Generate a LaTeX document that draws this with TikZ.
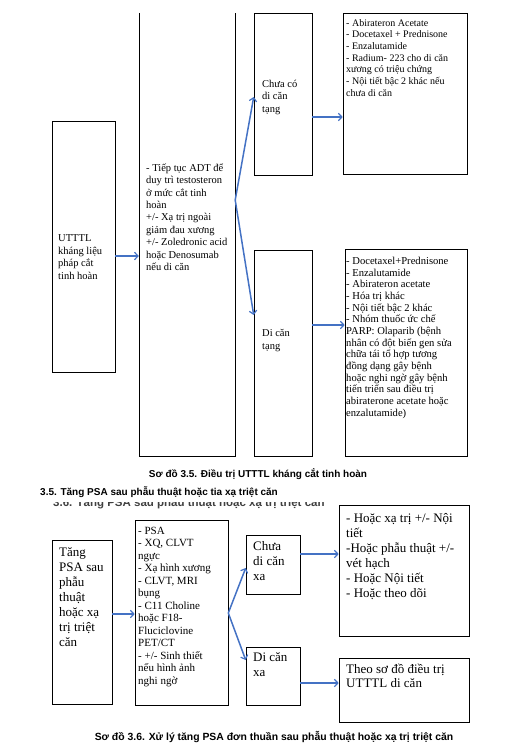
\documentclass[tikz,border=0pt]{standalone}
\usepackage{fontspec}
\setmainfont{Liberation Serif}
\setsansfont{Liberation Sans}
\usetikzlibrary{arrows.meta}
\definecolor{arrblue}{RGB}{68,114,196}
\tikzset{
  bx/.style={draw=black, line width=0.6pt, inner sep=0pt, minimum width=#1},
  txt/.style={anchor=north west, align=left, inner sep=0pt},
  arr/.style={draw=arrblue, line width=1.5pt, -{Straight Barb[length=3.5pt,width=7.5pt,line width=1.2pt]}},
  captxt/.style={font=\sffamily\bfseries\fontsize{10}{12}\selectfont, inner sep=0pt},
}
\newcommand{\fs}[2]{\fontsize{#1}{#2}\selectfont}
\newcommand{\fl}{\rule{0pt}{1em}}
\begin{document}
\begin{tikzpicture}[x=1pt,y=-1pt]
\useasboundingbox (0,0) rectangle (519,750);
% ---------- Diagram 3.5 ----------
\node[bx=63pt, minimum height=251pt] (b1) at (83.5,246.5) {};
\node[inner sep=0pt, minimum width=96pt, minimum height=443pt] (b2) at (187,234.5) {};
\draw[line width=0.6pt] (b2.north west) -- (b2.south west) -- (b2.south east) -- (b2.north east);
\node[bx=58pt, minimum height=162pt] (b3) at (283,94) {};
\node[bx=124pt, minimum height=161pt] (b4) at (405,93.5) {};
\node[bx=58pt, minimum height=206pt] (b5) at (283,353) {};
\node[bx=122pt, minimum height=207pt] (b6) at (406,352.5) {};

\node[txt, font=\fs{10.5}{12.8}] (t1) at (58,230.5) {\fl UTTTL\\kháng liệu\\pháp cắt\\tinh hoàn};
\node[txt, font=\fs{10.5}{12.4}] (t2) at (146,160.5) {\fl - Tiếp tục ADT để\\duy trì testosteron\\ở mức cắt tinh\\hoàn\\+/- Xạ trị ngoài\\giảm đau xương\\+/- Zoledronic acid\\hoặc Denosumab\\nếu di căn};
\node[txt, font=\fs{10.5}{12.5}] (t3) at (262,76.5) {\fl Chưa có\\di căn\\tạng};
\node[txt, font=\fs{10}{11.7}] (t4) at (346,15.8) {\fl - Abirateron Acetate\\- Docetaxel + Prednisone\\- Enzalutamide\\- Radium- 223 cho di căn\\xương có triệu chứng\\- Nội tiết bậc 2 khác nếu\\chưa di căn};
\node[txt, font=\fs{10.5}{13.3}] (t5) at (262,325.5) {\fl Di căn\\tạng};
\node[txt, font=\fs{10.6}{11.67}] (t6) at (346,253.8) {\fl - Docetaxel+Prednisone\\- Enzalutamide\\- Abirateron acetate\\- Hóa trị khác\\- Nội tiết bậc 2 khác\\- Nhóm thuốc ức chế\\PARP: Olaparib (bệnh\\nhân có đột biến gen sửa\\chữa tái tổ hợp tương\\đồng dạng gây bệnh\\hoặc nghi ngờ gây bệnh\\tiến triển sau điều trị\\abiraterone acetate hoặc\\enzalutamide)};

\draw[arr] ([yshift=-9.5pt]b1.east) -- ([yshift=-9.5pt]b1.east -| b2.west);
\draw[arr] ([yshift=34.5pt]b2.east) -- ([yshift=-3pt]b3.west);
\draw[arr] ([yshift=34.5pt]b2.east) -- ([yshift=38pt]b5.west);
\draw[arr] ([yshift=-23pt]b3.east) -- ([yshift=-23pt]b3.east -| b4.west);
\draw[arr] ([yshift=28pt]b5.east) -- ([yshift=28pt]b5.east -| b6.west);

\node[captxt, anchor=base] (c1) at (258,477.5) {Sơ đồ 3.5. Điều trị UTTTL kháng cắt tinh hoàn};
\node[captxt, anchor=base west] (h1) at (40,495) {3.5. Tăng PSA sau phẫu thuật hoặc tia xạ triệt căn};
\begin{scope}
  \clip (45,502) rectangle (330,508);
  \node[anchor=base west, inner sep=0pt, text=black!75, font=\sffamily\bfseries\fs{11.5}{13}] (g1) at (53,506) {3.6. Tăng PSA sau phẫu thuật hoặc xạ trị triệt căn};
\end{scope}

% ---------- Diagram 3.6 ----------
\node[bx=60pt, minimum height=164pt] (a) at (82,622) {};
\node[bx=93pt, minimum height=185pt] (b) at (181.5,612.5) {};
\node[bx=54pt, minimum height=59pt] (c) at (273,564.5) {};
\node[bx=54pt, minimum height=58pt] (d) at (273,676) {};
\node[bx=130pt, minimum height=131pt] (e) at (404,570.5) {};
\node[bx=130pt, minimum height=64pt] (f) at (404,690) {};

\node[txt, font=\fs{13}{15}] (ta) at (59,543.5) {\fl Tăng\\PSA sau\\phẫu\\thuật\\hoặc xạ\\trị triệt\\căn};
\node[txt, font=\fs{11}{12.5}] (tb) at (138,522.8) {\fl - PSA\\- XQ, CLVT\\ngực\\- Xạ hình xương\\- CLVT, MRI\\bụng\\- C11 Choline\\hoặc F18-\\Fluciclovine\\PET/CT\\- +/- Sinh thiết\\nếu hình ảnh\\nghi ngờ};
\node[txt, font=\fs{13}{15}] (tc) at (253,537) {\fl Chưa\\di căn\\xa};
\node[txt, font=\fs{13}{15}] (td) at (253,648.5) {\fl Di căn\\xa};
\node[txt, font=\fs{13}{15}] (te) at (346,508.8) {\fl - Hoặc xạ trị +/- Nội\\tiết\\-Hoặc phẫu thuật +/-\\vét hạch\\- Hoặc Nội tiết\\- Hoặc theo dõi};
\node[txt, font=\fs{13}{14.3}] (tf) at (346,660.3) {\fl Theo sơ đồ điều trị\\UTTTL di căn};

\draw[arr] ([yshift=8pt]a.east) -- ([yshift=8pt]a.east -| b.west);
\draw[arr] ([yshift=-0.5pt]b.east) -- ([yshift=-3.5pt]c.west);
\draw[arr] ([yshift=-0.5pt]b.east) -- ([yshift=16pt]d.west);
\draw[arr] ([yshift=10.5pt]c.east) -- ([yshift=10.5pt]c.east -| e.west);
\draw[arr] ([yshift=-7pt]d.east) -- ([yshift=-7pt]d.east -| f.west);

\node[captxt, anchor=base, font=\sffamily\bfseries\fs{10.4}{12}] (c2) at (274,740) {Sơ đồ 3.6. Xử lý tăng PSA đơn thuần sau phẫu thuật hoặc xạ trị triệt căn};
\end{tikzpicture}
\end{document}
